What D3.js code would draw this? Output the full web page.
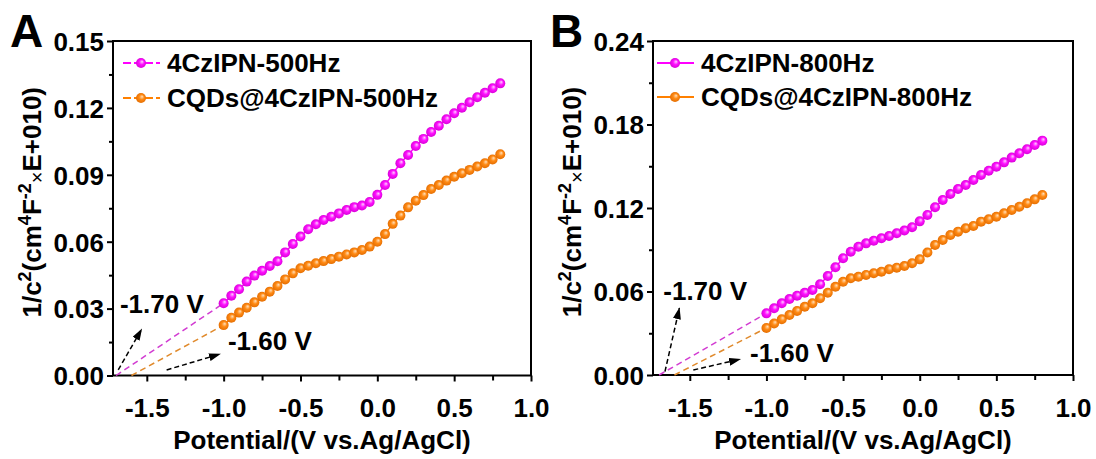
<!DOCTYPE html>
<html>
<head>
<meta charset="utf-8">
<script src="https://cdn.jsdelivr.net/npm/d3@7"></script>
<style>
  body { margin: 0; background: #fff; }
  svg text { font-family: Arial, "Liberation Sans", sans-serif; font-weight: bold; fill: #000; }
</style>
</head>
<body>
<div id="chart"></div>
<script>
// potential axis (V vs. Ag/AgCl), same for all four series
const potential = [-1.0, -0.95, -0.9, -0.85, -0.8, -0.75, -0.7, -0.65, -0.6, -0.55, -0.5, -0.45, -0.4,
  -0.35, -0.3, -0.25, -0.2, -0.15, -0.1, -0.05, 0.0, 0.05, 0.1, 0.15, 0.2, 0.25, 0.3, 0.35, 0.4,
  0.45, 0.5, 0.55, 0.6, 0.65, 0.7, 0.75, 0.8]

// 1/C^2 values
const pristine500 = [0.0324, 0.0358, 0.0387, 0.0421, 0.0448, 0.0470, 0.0491, 0.0512, 0.0552, 0.0590,
  0.0623, 0.0656, 0.0678, 0.0697, 0.0712, 0.0727, 0.0742, 0.0755, 0.0762, 0.0778, 0.0810, 0.0854,
  0.0904, 0.0952, 0.0989, 0.1029, 0.1061, 0.1092, 0.1120, 0.1149, 0.1176, 0.1201, 0.1225, 0.1248,
  0.1268, 0.1288, 0.1310]
const cqds500 = [0.0226, 0.0259, 0.0282, 0.0304, 0.0328, 0.0353, 0.0376, 0.0401, 0.0431, 0.0458,
  0.0481, 0.0492, 0.0503, 0.0513, 0.0522, 0.0533, 0.0543, 0.0552, 0.0563, 0.0578, 0.0600, 0.0634,
  0.0680, 0.0717, 0.0754, 0.0784, 0.0809, 0.0836, 0.0854, 0.0874, 0.0891, 0.0907, 0.0922, 0.0937,
  0.0952, 0.0969, 0.0992]
const pristine800 = [0.0443, 0.0479, 0.0515, 0.0546, 0.0570, 0.0591, 0.0611, 0.0652, 0.0711, 0.0774,
  0.0839, 0.0886, 0.0922, 0.0946, 0.0965, 0.0982, 0.0999, 0.1018, 0.1038, 0.1062, 0.1104, 0.1150,
  0.1205, 0.1257, 0.1301, 0.1337, 0.1365, 0.1401, 0.1437, 0.1468, 0.1497, 0.1528, 0.1562, 0.1593,
  0.1622, 0.1653, 0.1684]
const cqds800 = [0.0338, 0.0370, 0.0400, 0.0431, 0.0460, 0.0491, 0.0515, 0.0551, 0.0591, 0.0634,
  0.0670, 0.0695, 0.0706, 0.0719, 0.0731, 0.0742, 0.0760, 0.0771, 0.0783, 0.0803, 0.0831, 0.0880,
  0.0934, 0.0970, 0.1006, 0.1030, 0.1054, 0.1071, 0.1102, 0.1119, 0.1137, 0.1162, 0.1186, 0.1209,
  0.1234, 0.1262, 0.1293]

// ticks
const xTicks = [-1.5, -1.0, -0.5, 0.0, 0.5, 1.0]
const xMinorTicks = [-1.25, -0.75, -0.25, 0.25, 0.75]
const yTicksA = [0, 0.03, 0.06, 0.09, 0.12, 0.15]
const yMinorTicksA = [0.015, 0.045, 0.075, 0.105, 0.135]
const yTicksB = [0, 0.06, 0.12, 0.18, 0.24]
const yMinorTicksB = [0.03, 0.09, 0.15, 0.21]

const legendA = ['4CzIPN-500Hz', 'CQDs@4CzIPN-500Hz']
const legendB = ['4CzIPN-800Hz', 'CQDs@4CzIPN-800Hz']

// flat-band potentials (x intercepts of the extrapolations)
const onsets = [-1.70, -1.60]
const onsetLabels = ['-1.70 V', '-1.60 V']

const xAxisTitle = 'Potential/(V vs.Ag/AgCl)'

const width = 1096
const height = 459
const colors = ['#ff00ff', '#ff8000']
const dashColors = ['#d23cd2', '#e08a2c']
const radius = 5

const svg = d3.select('#chart')
  .append('svg')
  .attr('width', width)
  .attr('height', height)

// shiny ball markers
const defs = svg.append('defs')
const balls = [['ballM', '#ffd0ff', '#ff10ff', '#d200d2'], ['ballO', '#ffe0bc', '#ff8a14', '#e06a00']]
balls.forEach(([id, c0, c1, c2]) => {
  const grad = defs.append('radialGradient').attr('id', id)
    .attr('cx', '50%').attr('cy', '50%').attr('r', '55%').attr('fx', '62%').attr('fy', '35%')
  grad.append('stop').attr('offset', '0%').attr('stop-color', c0)
  grad.append('stop').attr('offset', '45%').attr('stop-color', c1)
  grad.append('stop').attr('offset', '100%').attr('stop-color', c2)
})
defs.append('marker')
  .attr('id', 'head')
  .attr('markerUnits', 'userSpaceOnUse')
  .attr('markerWidth', 12).attr('markerHeight', 8)
  .attr('refX', 11).attr('refY', 4)
  .attr('orient', 'auto')
  .append('path')
  .attr('d', 'M0,0 L12,4 L0,8 Z')
  .attr('fill', '#000')

const panels = [
  {
    letter: 'A', left: 113, top: 41, w: 418, h: 334.5,
    xDomain: [-1.72, 1.0], yDomain: [0, 0.15],
    yTicks: yTicksA, yMinor: yMinorTicksA,
    series: [pristine500, cqds500], legend: legendA, legendDash: '8,3',
    legendX: 10, legendY: [63, 98],
    labels: [[-1.675, 0.028], [-0.972, 0.0114]],
    arrows: [[[-1.686, 0.0025], [-1.534, 0.0207]], [[-1.371, 0.0025], [-1.024, 0.0096]]]
  },
  {
    letter: 'B', left: 653, top: 41, w: 420, h: 334,
    xDomain: [-1.74, 1.0], yDomain: [0, 0.24],
    yTicks: yTicksB, yMinor: yMinorTicksB,
    series: [pristine800, cqds800], legend: legendB, legendDash: null,
    legendX: 4, legendY: [63, 97],
    labels: [[-1.673, 0.0539], [-1.107, 0.0096]],
    arrows: [[[-1.662, 0.0024], [-1.568, 0.048]], [[-1.477, 0.0036], [-1.172, 0.0113]]]
  }
]

panels.forEach(p => {
  const main = svg.append('g')
    .attr('transform', `translate(${p.left}, ${p.top})`)

  const xScale = d3.scaleLinear().domain(p.xDomain).range([0, p.w])
  const yScale = d3.scaleLinear().domain(p.yDomain).range([p.h, 0])

  // minor ticks
  main.append('g')
    .attr('transform', `translate(0, ${p.h})`)
    .call(d3.axisBottom(xScale).tickValues(xMinorTicks).tickSize(5).tickFormat(''))
  main.append('g')
    .call(d3.axisLeft(yScale).tickValues(p.yMinor).tickSize(4).tickFormat(''))

  // major ticks
  const xAxis = main.append('g')
    .attr('transform', `translate(0, ${p.h})`)
    .call(d3.axisBottom(xScale).tickValues(xTicks).tickSize(6).tickPadding(22)
      .tickFormat(d => d.toFixed(1)))
  const yAxis = main.append('g')
    .call(d3.axisLeft(yScale).tickValues(p.yTicks).tickSize(6).tickPadding(3)
      .tickFormat(d => d.toFixed(2)))

  main.selectAll('.domain').remove()
  main.selectAll('.tick line').attr('stroke', '#000').attr('stroke-width', 2)
  main.selectAll('.tick text')
    .attr('font-size', 26)
    .attr('font-family', 'Arial, "Liberation Sans", sans-serif')
    .attr('font-weight', 'bold')
    .attr('fill', '#000')
  xAxis.selectAll('.tick text').attr('dy', 0).attr('y', 41.5)
  yAxis.selectAll('.tick text').attr('dy', '0.36em')

  main.append('rect')
    .attr('width', p.w)
    .attr('height', p.h)
    .attr('fill', 'none')
    .attr('stroke', '#000')
    .attr('stroke-width', 2)

  // extrapolated dashed lines down to the x intercept
  p.series.forEach((s, i) => {
    main.append('line')
      .attr('x1', xScale(onsets[i])).attr('y1', yScale(0))
      .attr('x2', xScale(potential[0])).attr('y2', yScale(s[0]))
      .attr('stroke', dashColors[i])
      .attr('stroke-width', 1.5)
      .attr('stroke-dasharray', '6,4')
  })

  // data
  const line = d3.line().x((d, j) => xScale(potential[j])).y(d => yScale(d))
  p.series.forEach((s, i) => {
    main.append('path')
      .attr('d', line(s))
      .attr('fill', 'none')
      .attr('stroke', colors[i])
      .attr('stroke-width', 1.5)
    main.append('g')
      .selectAll('circle')
      .data(s)
      .enter()
      .append('circle')
      .attr('cx', (d, j) => xScale(potential[j]))
      .attr('cy', d => yScale(d))
      .attr('r', radius)
      .attr('fill', i === 0 ? 'url(#ballM)' : 'url(#ballO)')
  })

  // legend
  const legend = main.append('g')
  p.legend.forEach((t, i) => {
    const y = p.legendY[i] - p.top
    legend.append('line')
      .attr('x1', p.legendX).attr('x2', p.legendX + 37)
      .attr('y1', y).attr('y2', y)
      .attr('stroke', colors[i])
      .attr('stroke-width', 2)
      .attr('stroke-dasharray', p.legendDash)
    legend.append('circle')
      .attr('cx', p.legendX + 18).attr('cy', y)
      .attr('r', radius)
      .attr('fill', i === 0 ? 'url(#ballM)' : 'url(#ballO)')
    legend.append('text')
      .attr('x', p.legendX + 44).attr('y', y)
      .attr('dy', '0.36em')
      .attr('font-size', 26)
      .text(t)
  })

  // onset arrows and labels
  p.arrows.forEach(a => {
    main.append('line')
      .attr('x1', xScale(a[0][0])).attr('y1', yScale(a[0][1]))
      .attr('x2', xScale(a[1][0])).attr('y2', yScale(a[1][1]))
      .attr('stroke', '#000')
      .attr('stroke-width', 1.5)
      .attr('stroke-dasharray', '5,3')
      .attr('marker-end', 'url(#head)')
  })
  p.labels.forEach((l, i) => {
    main.append('text')
      .attr('x', xScale(l[0]))
      .attr('y', yScale(l[1]))
      .attr('font-size', 26)
      .text(onsetLabels[i])
  })

  // axis titles
  main.append('text')
    .attr('x', p.w / 2)
    .attr('y', 449 - p.top)
    .attr('text-anchor', 'middle')
    .attr('font-size', 26)
    .text(xAxisTitle)

  const yTitle = main.append('text')
    .attr('transform', `translate(-72, ${p.h / 2 - 6}) rotate(-90)`)
    .attr('text-anchor', 'middle')
    .attr('font-size', 26)
  yTitle.append('tspan').text('1/c')
  yTitle.append('tspan').attr('font-size', 18).attr('dy', -10).text('2')
  yTitle.append('tspan').attr('dy', 10).text('(cm')
  yTitle.append('tspan').attr('font-size', 18).attr('dy', -10).text('4')
  yTitle.append('tspan').attr('dy', 10).text('F')
  yTitle.append('tspan').attr('font-size', 18).attr('dy', -10).text('-2')
  yTitle.append('tspan').attr('font-size', 20).attr('font-weight', 'normal').attr('dy', 13).text('×')
  yTitle.append('tspan').attr('dy', -3).text('E+010)')

  // panel letter
  svg.append('text')
    .attr('x', p.left - 103)
    .attr('y', 47)
    .attr('font-size', 46)
    .text(p.letter)
})
</script>
</body>
</html>
